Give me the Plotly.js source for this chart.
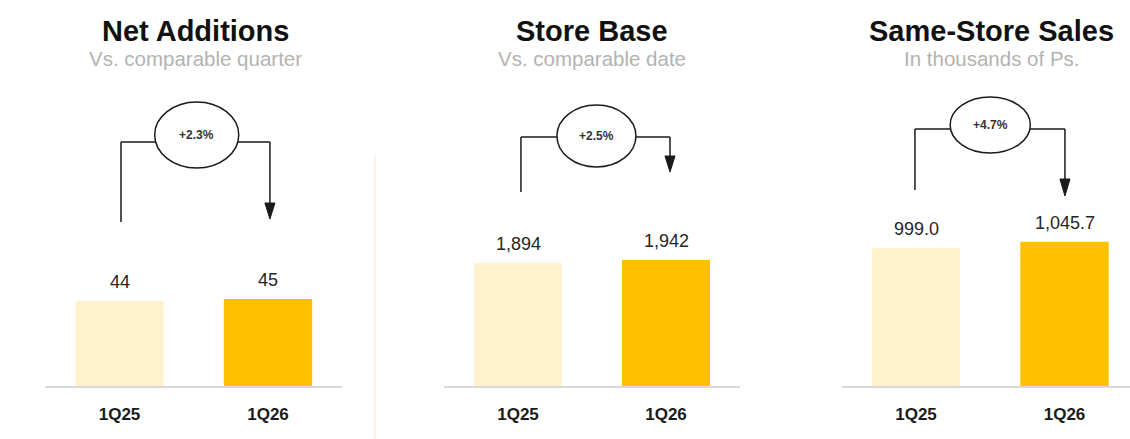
<!DOCTYPE html>
<html>
<head>
<meta charset="utf-8">
<script src="https://cdn.plot.ly/plotly-3.0.1.min.js"></script>
<style>
  html, body { margin: 0; padding: 0; background: #ffffff; }
  #chart { width: 1130px; height: 439px; }
</style>
</head>
<body>
<div id="chart"></div>
<script>
// ---- Data ----
const categories = ['1Q25', '1Q26'];
const netAdditions = [44, 45];
const storeBase = [1894, 1942];
const sameStoreSales = [999.0, 1045.7];
const netAdditionsLabels = ['44', '45'];
const storeBaseLabels = ['1,894', '1,942'];
const sameStoreSalesLabels = ['999.0', '1,045.7'];
const growthLabels = ['+2.3%', '+2.5%', '+4.7%'];
const panelTitles = ['Net Additions', 'Store Base', 'Same-Store Sales'];
const panelSubtitles = ['Vs. comparable quarter', 'Vs. comparable date', 'In thousands of Ps.'];

// ---- Styling / layout ----
const W = 1130, H = 439;
const px = x => x / W;
const py = y => 1 - y / H;
const barColors = ['#FFF2CC', '#FFC000'];
const lineColor = '#1a1a1a';
const FONT = 'Liberation Sans, Arial, sans-serif';

const seriesValues = [netAdditions, storeBase, sameStoreSales];
const seriesLabels = [netAdditionsLabels, storeBaseLabels, sameStoreSalesLabels];

const panels = [
  { xdom: [45.25, 342.25], xr: [-0.5, 1.5], ymax: 148, titleX: 195,
    hY: 142, leftBottom: 222, tip: 219, headH: 16, dxL: 0.01, dxR: 0.013,
    ecx: 0.52, erx: 0.283, ey0: 102, ey1: 168 },
  { xdom: [444, 740], xr: [-0.5, 1.5], ymax: 4407, titleX: 592,
    hY: 137, leftBottom: 192, tip: 172, headH: 16, dxL: 0.02, dxR: 0.027,
    ecx: 0.53, erx: 0.267, ey0: 105, ey1: 167 },
  { xdom: [841.75, 1130], xr: [-0.5, 1.441], ymax: 2074, titleX: 991.5,
    hY: 129, leftBottom: 190, tip: 196, headH: 17, dxL: -0.007, dxR: 0.003,
    ecx: 0.5, erx: 0.27, ey0: 97, ey1: 153 }
];

const yDomain = [py(386), py(100)];

const data = [];
const annotations = [];
const shapes = [];
const layout = {
  width: W, height: H,
  margin: { l: 0, r: 0, t: 0, b: 0 },
  paper_bgcolor: '#ffffff', plot_bgcolor: 'rgba(0,0,0,0)',
  showlegend: false,
  bargap: 0.4,
  font: { family: FONT },
  annotations: annotations,
  shapes: shapes
};

panels.forEach((p, i) => {
  const n = i === 0 ? '' : String(i + 1);
  const xa = 'x' + n, ya = 'y' + n;
  data.push({
    type: 'bar',
    x: categories,
    y: seriesValues[i],
    xaxis: xa, yaxis: ya,
    width: 0.595,
    marker: { color: barColors, line: { width: 0 } },
    hoverinfo: 'x+y'
  });
  layout['xaxis' + n] = {
    domain: [px(p.xdom[0]), px(p.xdom[1])],
    anchor: ya,
    type: 'category',
    range: p.xr,
    showline: true, linecolor: '#d9d9d9', linewidth: 1.5,
    showgrid: false, zeroline: false, ticks: '',
    ticklabelstandoff: 12,
    tickfont: { family: FONT, size: 17, color: '#1a1a1a', weight: 'bold' },
    fixedrange: true
  };
  layout['yaxis' + n] = {
    domain: yDomain,
    anchor: xa,
    range: [0, p.ymax],
    visible: false,
    showgrid: false, zeroline: false,
    fixedrange: true
  };

  // value labels above bars
  categories.forEach((c, k) => {
    annotations.push({
      xref: xa, yref: ya, x: c, y: seriesValues[i][k],
      text: seriesLabels[i][k], showarrow: false,
      yanchor: 'middle', yshift: 19,
      font: { family: FONT, size: 18, color: '#262626' }
    });
  });

  // titles
  annotations.push({
    xref: 'paper', yref: 'paper', x: px(p.titleX), y: py(31),
    text: panelTitles[i], showarrow: false, xanchor: 'center', yanchor: 'middle',
    font: { family: FONT, size: 29, color: '#111111', weight: 'bold' }
  });
  annotations.push({
    xref: 'paper', yref: 'paper', x: px(p.titleX), y: py(59),
    text: panelSubtitles[i], showarrow: false, xanchor: 'center', yanchor: 'middle',
    font: { family: FONT, size: 20.5, color: '#b3b3b3' }
  });

  // connector
  const xL = 0 + p.dxL, xR = 1 + p.dxR, hw = 0.034;
  const ln = { color: lineColor, width: 1.5 };
  shapes.push({ type: 'line', xref: xa, yref: 'paper', x0: xL, x1: xL, y0: py(p.leftBottom), y1: py(p.hY), line: ln });
  shapes.push({ type: 'line', xref: xa, yref: 'paper', x0: xL, x1: xR, y0: py(p.hY), y1: py(p.hY), line: ln });
  shapes.push({ type: 'line', xref: xa, yref: 'paper', x0: xR, x1: xR, y0: py(p.hY), y1: py(p.tip - p.headH + 1), line: ln });
  shapes.push({
    type: 'path', xref: xa, yref: 'paper',
    path: `M ${xR - hw},${py(p.tip - p.headH)} L ${xR + hw},${py(p.tip - p.headH)} L ${xR},${py(p.tip)} Z`,
    fillcolor: lineColor, line: { color: lineColor, width: 1 }
  });
  shapes.push({
    type: 'circle', xref: xa, yref: 'paper',
    x0: p.ecx - p.erx, x1: p.ecx + p.erx, y0: py(p.ey1), y1: py(p.ey0),
    fillcolor: '#ffffff', line: ln
  });
  annotations.push({
    xref: xa, yref: 'paper', x: p.ecx, y: py((p.ey0 + p.ey1) / 2),
    text: growthLabels[i], showarrow: false, xanchor: 'center', yanchor: 'middle',
    font: { family: FONT, size: 12, color: '#333333', weight: 'bold' }
  });
});

// faint divider between first and second panel
shapes.push({ type: 'line', xref: 'paper', yref: 'paper', x0: px(375), x1: px(375), y0: py(155), y1: 0,
  line: { color: '#f6eee4', width: 1.5 } });

Plotly.newPlot('chart', data, layout, { displayModeBar: false, staticPlot: true });
</script>
</body>
</html>
